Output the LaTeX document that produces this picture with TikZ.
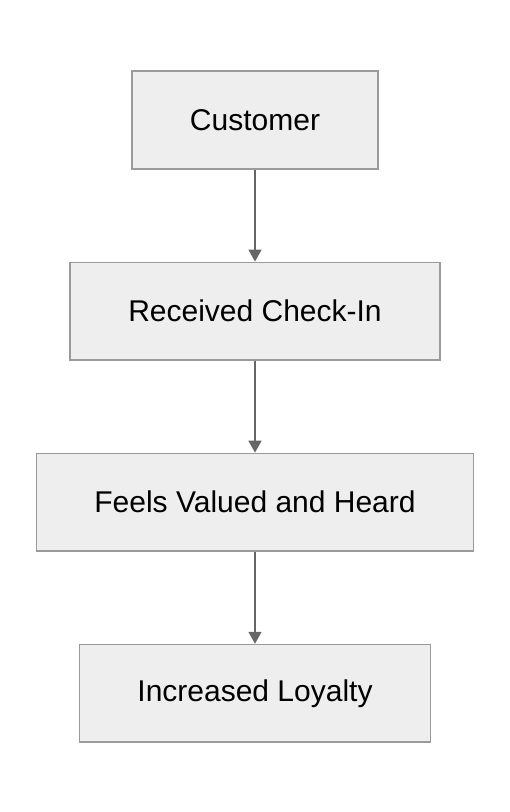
\documentclass[tikz,border=0pt]{standalone}
\usepackage{fontspec}
\setmainfont{Liberation Sans}
\usetikzlibrary{arrows.meta,positioning}

\definecolor{boxfill}{HTML}{EEEEEE}
\definecolor{boxline}{HTML}{9A9A9A}
\definecolor{arrowline}{HTML}{666666}

\begin{document}
\begin{tikzpicture}[-{Triangle[length=12pt,width=13pt]},semithick,
                    node distance=92pt]

  \tikzset{step box/.style={rectangle,draw=boxline,fill=boxfill,line width=1.6pt,
           inner xsep=58pt,minimum height=97.5pt,
           font=\fontsize{30}{36}\selectfont}}

  \useasboundingbox (0,0) rectangle (510pt,-812pt);

  \node[step box] (CUS) at (255pt,-120pt) {Customer};
  \node[step box] (CHK) [below=of CUS]    {Received Check-In};
  \node[step box] (VAL) [below=of CHK]    {Feels Valued and Heard};
  \node[step box] (LOY) [below=of VAL]    {Increased Loyalty};

  \path[draw=arrowline,fill=arrowline,line width=1.6pt]
  (CUS) edge (CHK)
  (CHK) edge (VAL)
  (VAL) edge (LOY)
  ;
\end{tikzpicture}
\end{document}
